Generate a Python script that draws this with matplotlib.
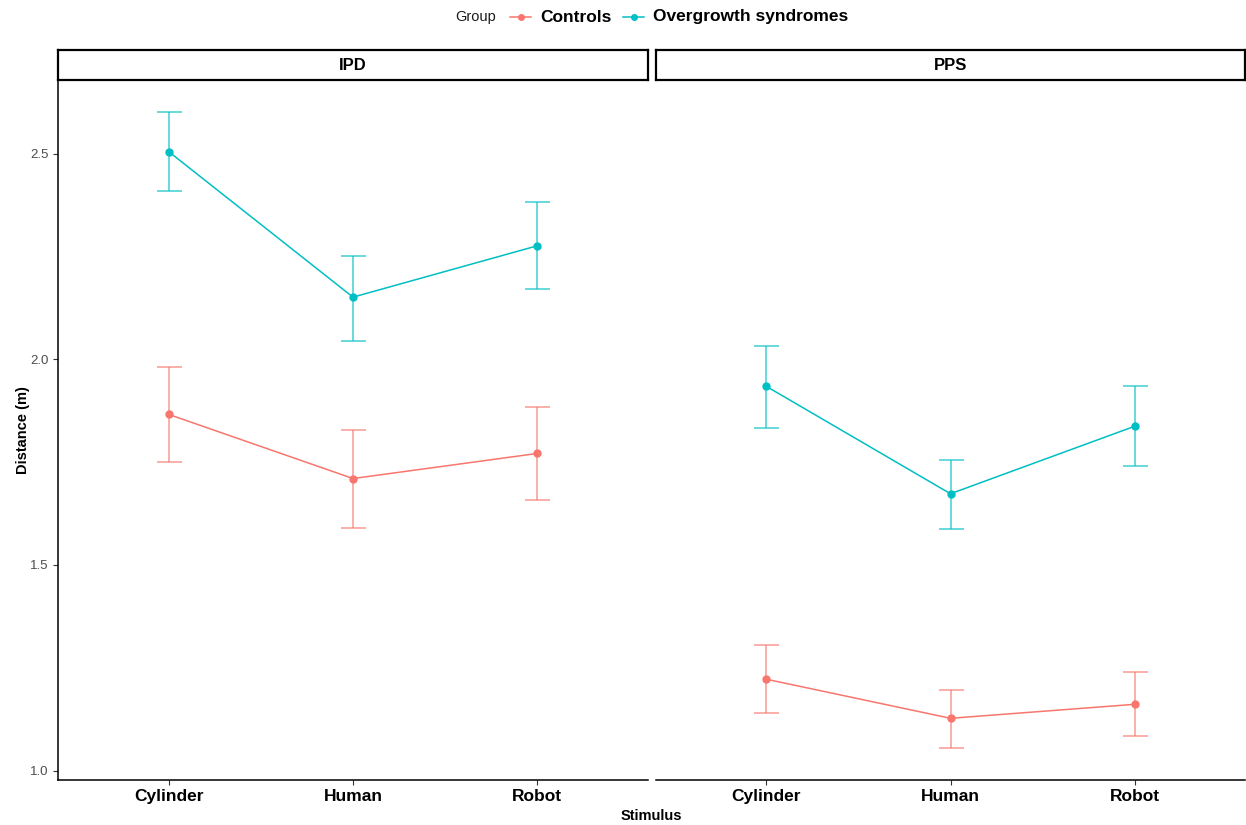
import matplotlib
matplotlib.use("Agg")
import matplotlib.pyplot as plt
from matplotlib.lines import Line2D

plt.rcParams['font.family'] = ['Liberation Sans', 'DejaVu Sans']

stimuli = ["Cylinder", "Human", "Robot"]
groups = ["Controls", "Overgrowth syndromes"]
colors = {"Controls": "#F8766D", "Overgrowth syndromes": "#00BFC4"}
panels = ["IPD", "PPS"]

means = {
    "IPD": {"Controls": [1.866, 1.710, 1.771],
            "Overgrowth syndromes": [2.505, 2.151, 2.276]},
    "PPS": {"Controls": [1.222, 1.127, 1.161],
            "Overgrowth syndromes": [1.934, 1.673, 1.837]},
}
lower = {
    "IPD": {"Controls": [1.749, 1.590, 1.659],
            "Overgrowth syndromes": [2.410, 2.044, 2.171]},
    "PPS": {"Controls": [1.139, 1.054, 1.085],
            "Overgrowth syndromes": [1.832, 1.588, 1.741]},
}
upper = {
    "IPD": {"Controls": [1.980, 1.827, 1.883],
            "Overgrowth syndromes": [2.602, 2.251, 2.383]},
    "PPS": {"Controls": [1.305, 1.195, 1.239],
            "Overgrowth syndromes": [2.032, 1.756, 1.934]},
}
yticks = [1.0, 1.5, 2.0, 2.5]

W, H = 1246, 825
fig = plt.figure(figsize=(W / 100, H / 100), dpi=100)

def fx(px):
    return px / W

def fy(py):
    return 1 - py / H

panel_px = [(58, 648), (656, 1245)]
top, bottom = 80, 780
x = list(range(len(stimuli)))

for i, (p, (l, r)) in enumerate(zip(panels, panel_px)):
    ax = fig.add_axes([fx(l), fy(bottom), fx(r - l), (bottom - top) / H])
    for g in groups:
        m = means[p][g]
        lo = [mm - a for mm, a in zip(m, lower[p][g])]
        hi = [b - mm for mm, b in zip(m, upper[p][g])]
        ax.errorbar(x, m, yerr=[lo, hi], fmt='none', ecolor=colors[g],
                    elinewidth=1.1, capsize=9, capthick=1.1, alpha=0.75, zorder=2)
        ax.plot(x, m, color=colors[g], lw=1.1, zorder=3)
        ax.plot(x, m, 'o', color=colors[g], ms=5, zorder=4)
    ax.set_xlim(-0.6, 2.6)
    ax.set_ylim(0.977, 2.679)
    ax.set_xticks(x)
    ax.set_xticklabels(stimuli, fontsize=12.5, fontweight='bold', color='black')
    ax.set_yticks(yticks)
    ax.tick_params(axis='both', length=3.5, width=0.8, color='#333333')
    ax.tick_params(axis='x', pad=3)
    for s in ['top', 'right']:
        ax.spines[s].set_visible(False)
    ax.spines['bottom'].set_linewidth(1.1)
    if i == 0:
        ax.set_yticklabels([f"{v:.1f}" for v in yticks], fontsize=9.5, color='#4D4D4D')
        ax.spines['left'].set_linewidth(1.1)
        ax.set_ylabel("Distance (m)", fontsize=10.5, fontweight='bold', labelpad=0)
    else:
        ax.spines['left'].set_visible(False)
        ax.tick_params(axis='y', left=False, labelleft=False)
    # strip
    sax = fig.add_axes([fx(l), fy(top), fx(r - l), 30 / H])
    sax.set_xticks([])
    sax.set_yticks([])
    for s in sax.spines.values():
        s.set_linewidth(1.6)
        s.set_color('black')
    sax.text(0.5, 0.5, p, ha='center', va='center', fontsize=12,
             fontweight='bold', transform=sax.transAxes)

fig.text(fx(651), fy(816), "Stimulus", ha='center', va='center',
         fontsize=10.5, fontweight='bold')

# legend drawn manually in figure pixel coordinates
ly = fy(17)
fig.text(fx(455), ly, "Group", ha='left', va='center', fontsize=10.5, color='#1a1a1a')
key_x = [510, 623]
for g, kx in zip(groups, key_x):
    fig.add_artist(Line2D([fx(kx), fx(kx + 21)], [ly, ly], color=colors[g], lw=1.1,
                          transform=fig.transFigure))
    fig.add_artist(Line2D([fx(kx + 10.5)], [ly], color=colors[g], marker='o', ms=4,
                          transform=fig.transFigure))
    fig.text(fx(kx + 30), ly, g, ha='left', va='center', fontsize=12.5, fontweight='bold')

fig.savefig("out.png", dpi=100)
